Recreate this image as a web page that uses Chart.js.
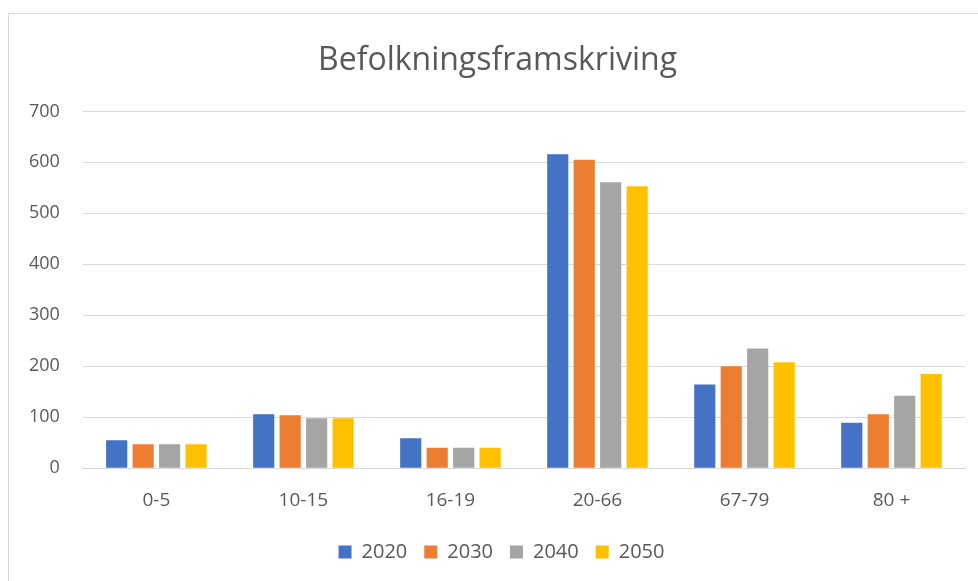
<!DOCTYPE html>
<html>
<head>
<meta charset="utf-8">
<script src="https://cdn.jsdelivr.net/npm/chart.js@4"></script>
<style>
  html, body { margin: 0; padding: 0; background: #fff; }
  #frame { position: absolute; left: 8px; top: 13px; width: 990px; height: 580px; border: 1px solid #d9d9d9; box-sizing: border-box; }
  #wrap { position: absolute; left: 0; top: 0; width: 978px; height: 581px; }
</style>
</head>
<body>
<div id="frame"></div>
<div id="wrap"><canvas id="chart" width="978" height="581"></canvas></div>
<script>
// kategorier og verdier
const aldersgrupper = ['0-5', '10-15', '16-19', '20-66', '67-79', '80 +'];
const aar = ['2020', '2030', '2040', '2050'];
const verdier2020 = [55, 106, 59, 616, 164, 89];
const verdier2030 = [47, 104, 40, 605, 200, 106];
const verdier2040 = [47, 98, 40, 561, 235, 142];
const verdier2050 = [47, 98, 40, 553, 208, 185];
const yTicks = [0, 100, 200, 300, 400, 500, 600, 700];

const farger = ['#4472C4', '#ED7D31', '#A5A5A5', '#FFC000'];
const serier = [verdier2020, verdier2030, verdier2040, verdier2050];

// Excel-rammen er bredere enn bildet, så tittel og forklaring sitter litt til høyre
const forskyvning = {
    id: 'forskyvning',
    afterLayout(chart) {
        const t = chart.titleBlock;
        if (t) { t.left += 12; t.right += 12; }
        const l = chart.legend;
        if (l) { l.left += 16; l.right += 16; }
    }
};

const ctx = document.getElementById('chart').getContext('2d');
new Chart(ctx, {
    type: 'bar',
    data: {
        labels: aldersgrupper,
        datasets: serier.map((data, i) => ({
            label: aar[i],
            data: data,
            backgroundColor: farger[i],
            borderWidth: 0,
            barPercentage: 0.8,
            categoryPercentage: 0.72
        }))
    },
    plugins: [forskyvning],
    options: {
        responsive: false,
        animation: false,
        layout: { padding: { left: 6, right: 13, top: 20, bottom: 9 } },
        plugins: {
            title: {
                display: true,
                text: 'Befolkningsframskriving',
                color: '#595959',
                font: { family: 'Open Sans', size: 32, weight: 'normal' },
                padding: { top: 22, bottom: 31 }
            },
            legend: {
                position: 'bottom',
                labels: {
                    color: '#595959',
                    font: { family: 'Open Sans', size: 20 },
                    boxWidth: 13,
                    boxHeight: 13,
                    padding: 17
                }
            },
            tooltip: { enabled: false }
        },
        scales: {
            x: {
                grid: { display: false },
                border: { color: '#d9d9d9', width: 1 },
                ticks: { color: '#595959', font: { family: 'Open Sans', size: 19 }, padding: 13 }
            },
            y: {
                min: 0,
                max: 700,
                afterBuildTicks: axis => { axis.ticks = yTicks.map(v => ({ value: v })); },
                grid: { color: '#d9d9d9', lineWidth: 1, drawTicks: false },
                border: { display: false },
                ticks: { color: '#595959', font: { family: 'Open Sans', size: 18 }, padding: 23 }
            }
        }
    }
});
</script>
</body>
</html>
